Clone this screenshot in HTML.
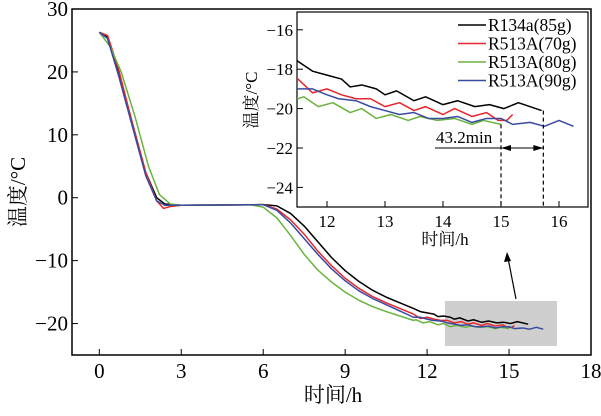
<!DOCTYPE html>
<html><head><meta charset="utf-8"><style>
body{margin:0;background:#fff}
svg{font-family:"Liberation Serif","Noto Serif CJK SC",serif}
</style></head><body>
<svg id="c" width="601" height="411" viewBox="0 0 601 411"></svg>
<script>
const seriesNames=["R134a(85g)","R513A(70g)","R513A(80g)","R513A(90g)"];
const seriesColors=["#000","#e8262a","#6ab43e","#3a4aa0"];
const blackT=[0,0.3,0.7,1.2,1.7,2.1,2.4,3,6,6.5,7,7.5,8,8.5,9,9.5,10,10.5,11,11.5,11.75,12,12.25,12.4,12.6,12.85,13,13.2,13.5,13.7,14,14.25,14.55,14.8,15.05,15.3,15.7];
const blackV=[26.3,25.5,20,12,4,0,-1,-1.2,-1.1,-1.3,-2.5,-4.5,-7,-9.5,-11.6,-13.3,-14.7,-15.8,-16.7,-17.6,-18.1,-18.3,-18.5,-18.9,-18.8,-19,-19.3,-19.1,-19.6,-19.4,-19.8,-19.6,-19.9,-19.8,-20,-19.7,-20.1];
const redT=[0,0.3,0.7,1.2,1.7,2.1,2.35,2.6,3,6,6.5,7,7.5,8,8.5,9,9.5,10,10.5,11,11.5,11.75,12,12.25,12.5,12.75,13,13.25,13.5,13.7,14,14.2,14.5,14.75,14.95,15.1,15.2];
const redV=[26.3,25.8,20.5,12,4,-0.5,-1.7,-1.4,-1.2,-1.1,-1.8,-3.5,-5.8,-8.5,-10.8,-12.8,-14.4,-15.7,-16.7,-17.6,-18.5,-19.2,-19,-19.3,-19.5,-19.5,-19.9,-19.7,-20.1,-19.9,-20.3,-20,-20.4,-20.2,-20.6,-20.6,-20.3];
const greenT=[0,0.4,0.8,1.3,1.8,2.2,2.6,3,5.5,6,6.5,7,7.5,8,8.5,9,9.5,10,10.5,11,11.5,11.6,11.85,12.1,12.4,12.6,12.85,13.1,13.4,13.6,13.9,14.2,14.5,14.7,15];
const greenV=[26.3,24,20,13,5,0.5,-1,-1.2,-1.1,-1.5,-3.2,-6,-9,-11.5,-13.4,-15,-16.3,-17.3,-18.1,-18.8,-19.5,-19.4,-19.9,-19.7,-20.2,-20,-20.5,-20.3,-20.6,-20.4,-20.6,-20.5,-20.8,-20.6,-20.8];
const blueT=[0,0.3,0.7,1.2,1.7,2.1,2.4,3,6,6.5,7,7.5,8,8.5,9,9.5,10,10.5,11,11.5,11.75,12,12.2,12.5,12.75,13,13.25,13.5,13.75,14,14.25,14.5,14.75,15,15.2,15.5,15.75,16,16.25];
const blueV=[26.3,25.3,19.5,11.5,3.5,-0.5,-1.2,-1.2,-1.1,-2,-4,-6.5,-9,-11.3,-13.2,-14.8,-16,-17,-18,-19,-19,-19.3,-19.5,-19.6,-19.9,-20.1,-20.3,-20.2,-20.5,-20.5,-20.4,-20.7,-20.5,-20.5,-20.8,-20.7,-20.9,-20.6,-20.9];
const mainXTicks=[0,3,6,9,12,15,18];
const mainYTicks=[30,20,10,0,-10,-20];
const insetXTicks=[12,13,14,15,16];
const insetYTicks=[-16,-18,-20,-22,-24];

const S=[[blackT,blackV],[redT,redV],[greenT,greenV],[blueT,blueV]];
const NS="http://www.w3.org/2000/svg";
const svg=document.getElementById('c');
function mk(tag,at,parent){const e=document.createElementNS(NS,tag);for(const k in at)e.setAttribute(k,at[k]);(parent||svg).appendChild(e);return e;}
const MX=v=>72+(v+1)*(591-72)/19, MY=v=>355-(v+25)*(355-9)/55;
const IX=v=>327+(v-12)*58, IY=v=>148-(v+22)*19.7;

let g=mk('rect',{x:445,y:301,width:112,height:45,fill:'#cfcfcf'});


S.forEach((s,i)=>{const p=mk('polyline',{points:s[0].map((t,j)=>MX(t)+','+MY(s[1][j])).join(' '),fill:'none',stroke:seriesColors[i],'stroke-width':1.5,'stroke-linejoin':'round'});

});
let ax=mk('rect',{x:72,y:9,width:519,height:346,fill:'none',stroke:'#000','stroke-width':1.5});


mainXTicks.forEach(t=>{mk('line',{x1:MX(t),x2:MX(t),y1:355,y2:349,stroke:'#000'});
const e=mk('text',{x:MX(t),y:378,'font-size':21,'text-anchor':'middle'});e.textContent=t;

});
mainYTicks.forEach(t=>{mk('line',{x1:72,x2:78,y1:MY(t),y2:MY(t),stroke:'#000'});
const e=mk('text',{x:68,y:MY(t)+7,'font-size':21,'text-anchor':'end'});e.textContent=(t<0?'\u2212'+(-t):t);

});
let xl=mk('text',{x:333,y:402,'font-size':21,'text-anchor':'middle'});xl.textContent='时间/h';


let yl=mk('text',{x:0,y:0,'font-size':21,'text-anchor':'middle',transform:'translate(25,192) rotate(-90)'});yl.textContent='温度/°C';


mk('line',{x1:516,y1:299,x2:508,y2:258,stroke:'#000','stroke-width':1.2});
let ah=mk('polygon',{points:'507,252 504,262 511,261',fill:'#000'});



let ib=mk('rect',{x:297,y:12,width:291,height:195,fill:'#fff',stroke:'#000','stroke-width':1.2});


mk('clipPath',{id:'ic'}).appendChild(document.createElementNS(NS,'rect'));
const cr=svg.querySelector('#ic rect');cr.setAttribute('x',297);cr.setAttribute('y',12);cr.setAttribute('width',291);cr.setAttribute('height',195);
S.forEach((s,i)=>{const p=mk('polyline',{points:s[0].map((t,j)=>IX(t)+','+IY(s[1][j])).join(' '),fill:'none',stroke:seriesColors[i],'stroke-width':1.5,'stroke-linejoin':'round','clip-path':'url(#ic)'});

});
insetXTicks.forEach(t=>{mk('line',{x1:IX(t),x2:IX(t),y1:207,y2:201,stroke:'#000'});
const e=mk('text',{x:IX(t),y:227,'font-size':17,'text-anchor':'middle'});e.textContent=t;

});
insetYTicks.forEach(t=>{mk('line',{x1:297,x2:303,y1:IY(t),y2:IY(t),stroke:'#000'});
const e=mk('text',{x:293,y:IY(t)+6,'font-size':17,'text-anchor':'end'});e.textContent='\u2212'+(-t);

});
let ixl=mk('text',{x:445,y:245,'font-size':17,'text-anchor':'middle'});ixl.textContent='时间/h';


let iyl=mk('text',{x:0,y:0,'font-size':17,'text-anchor':'middle',transform:'translate(257,100) rotate(-90)'});iyl.textContent='温度/°C';


[[15,-20.8],[15.73,-20.1]].forEach(d=>{const l=mk('line',{x1:IX(d[0]),x2:IX(d[0]),y1:IY(d[1]),y2:207,stroke:'#000','stroke-dasharray':'4,3','stroke-width':1.2});

});
mk('line',{x1:435,x2:IX(15.73),y1:IY(-22),y2:IY(-22),stroke:'#000','stroke-width':1.1});
mk('polygon',{points:`${IX(15)},${IY(-22)} ${IX(15)+10},${IY(-22)-3} ${IX(15)+10},${IY(-22)+3}`,fill:'#000'});
mk('polygon',{points:`${IX(15.73)},${IY(-22)} ${IX(15.73)-10},${IY(-22)-3} ${IX(15.73)-10},${IY(-22)+3}`,fill:'#000'});
let an=mk('text',{x:436,y:143,'font-size':17});an.textContent='43.2min';


seriesNames.forEach((n,i)=>{const y=25+i*18.5;
const l=mk('line',{x1:458,x2:486,y1:y,y2:y,stroke:seriesColors[i],'stroke-width':1.6});


const t=mk('text',{x:488,y:y+6,'font-size':17.5});t.textContent=n;

});
</script>
</body></html>
